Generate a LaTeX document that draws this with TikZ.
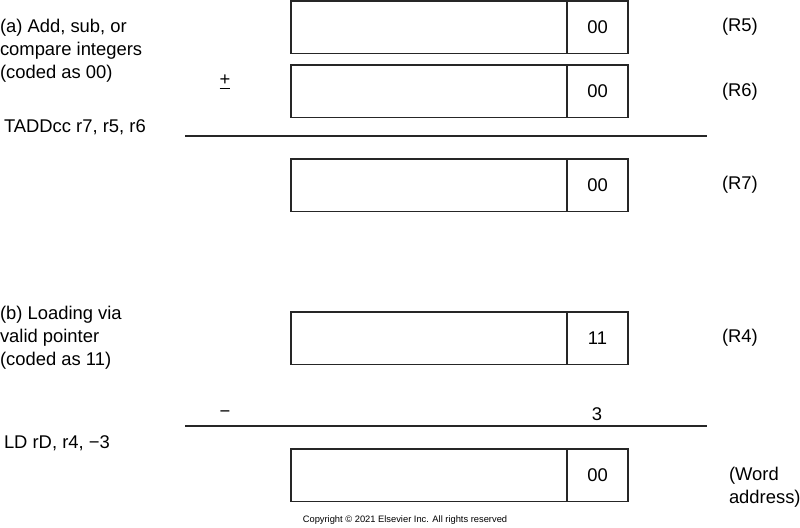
\documentclass[tikz,border=0pt]{standalone}
\usepackage{fontspec}
\setmainfont{Liberation Sans}

\begin{document}
\begin{tikzpicture}[x=0.75pt,y=-0.75pt]
   \tikzstyle{every node}=[font=\fontsize{13.8}{17.4}\selectfont, inner sep=0pt, outer sep=0pt]
   \tikzstyle{field}=[draw=black!85, line width=1pt, minimum width=207pt, minimum height=39.5pt, anchor=north west]
   \tikzstyle{tag}=[draw=black!85, line width=1pt, minimum width=45.75pt, minimum height=39.5pt, anchor=north west]
   \tikzstyle{reg}=[anchor=west]
   \tikzstyle{note}=[anchor=west, align=left]
   \tikzstyle{rule}=[draw=black!85, line width=1pt]

\useasboundingbox (0,0) rectangle (800,528);

% (a) tagged add
\node[note] (atext) at (0,51) {(a) Add, sub, or\\compare integers\\(coded as 00)};
\node[note] (ainstr) at (4,127) {TADDcc r7, r5, r6};
\node (pm) at (225,82) {\underline{+}};

\node[field] (r5) at (291,1) {};
\node[tag] (r5tag) at (r5.north east) {00};
\node[reg] (r5name) at (722,27) {(R5)};

\node[field] (r6) at (291,65) {};
\node[tag] (r6tag) at (r6.north east) {00};
\node[reg] (r6name) at (722,92) {(R6)};

\coordinate (sumL) at (185,136);
\coordinate (sumR) at (707,136);
\draw[rule] (sumL) -- (sumR);

\node[field] (r7) at (291,159) {};
\node[tag] (r7tag) at (r7.north east) {00};
\node[reg] (r7name) at (722,185) {(R7)};

% (b) load via pointer
\node[note] (btext) at (0,338) {(b) Loading via\\valid pointer\\(coded as 11)};
\node[note] (binstr) at (4,443) {LD rD, r4, −3};
\node (minus) at (225,414) {−};

\node[field] (r4) at (291,312) {};
\node[tag] (r4tag) at (r4.north east) {11};
\node[reg] (r4name) at (722,338) {(R4)};

\node (offset) at (597,414) {3};

\coordinate (diffL) at (185,426);
\coordinate (diffR) at (707,426);
\draw[rule] (diffL) -- (diffR);

\node[field] (addr) at (291,449) {};
\node[tag] (addrtag) at (addr.north east) {00};
\node[note] (addrname) at (729,487) {(Word\\address)};

\node[font=\fontsize{7}{8}\selectfont] (copy) at (405,520) {Copyright © 2021 Elsevier Inc. All rights reserved};

\end{tikzpicture}
\end{document}
